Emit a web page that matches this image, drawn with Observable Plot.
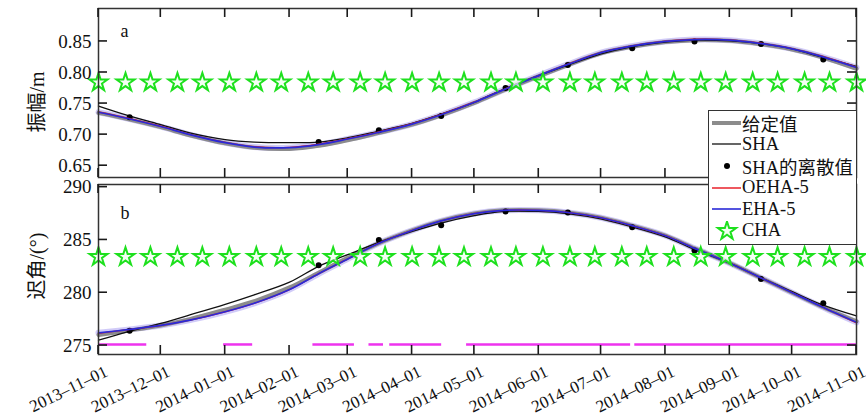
<!DOCTYPE html>
<html><head><meta charset="utf-8">
<script src="https://cdn.jsdelivr.net/npm/d3@7"></script>
<script src="https://cdn.jsdelivr.net/npm/@observablehq/plot@0.6"></script>
<style>
body{margin:0;background:#fff;}
#wrap{position:relative;width:866px;height:414px;overflow:hidden;font-family:'Liberation Serif','Noto Sans CJK SC',serif;color:#111;}
#wrap svg{display:block;}
.ytitle{position:absolute;font-size:20px;white-space:nowrap;transform:translate(-50%,-50%) rotate(-90deg);}
#legend{position:absolute;left:708px;top:110px;width:149px;height:135px;background:#fff;border:1.5px solid #333;box-sizing:border-box;font-size:18.5px;padding-top:1px;}
.row{display:flex;align-items:center;height:21.6px;}
.row svg{flex:none;margin-right:1px;}
</style></head><body>
<div id="wrap"><div id="top"></div><div id="bot"></div><div id="legend"></div></div>
<script>
// ---------- data ----------
const sampleDates = ["2013-11-01","2013-11-15","2013-12-01","2013-12-15","2014-01-01","2014-01-15","2014-02-01","2014-02-15","2014-03-01","2014-03-15","2014-04-01","2014-04-15","2014-05-01","2014-05-15","2014-06-01","2014-06-15","2014-07-01","2014-07-15","2014-08-01","2014-08-15","2014-09-01","2014-09-15","2014-10-01","2014-10-15","2014-11-01"];
const ampGiven = [0.735,0.725,0.712,0.699,0.686,0.679,0.677,0.682,0.691,0.702,0.716,0.731,0.751,0.771,0.794,0.812,0.831,0.841,0.849,0.852,0.851,0.846,0.837,0.825,0.806];
const ampSHA   = [0.746,0.731,0.716,0.703,0.692,0.688,0.687,0.688,0.695,0.705,0.718,0.733,0.752,0.773,0.795,0.812,0.830,0.841,0.849,0.852,0.851,0.847,0.838,0.825,0.810];
const ampOEHA  = [0.7365,0.7265,0.7135,0.7005,0.6875,0.6805,0.6795,0.6845,0.6935,0.7035,0.7175,0.7325,0.7525,0.7725,0.7955,0.8135,0.8325,0.8425,0.8505,0.8535,0.8525,0.8475,0.8385,0.8265,0.8085];
const ampEHA   = [0.736,0.726,0.713,0.700,0.687,0.680,0.679,0.684,0.693,0.703,0.717,0.732,0.752,0.772,0.795,0.813,0.832,0.842,0.850,0.853,0.852,0.847,0.838,0.826,0.808];
const phaseGiven = [276.0,276.4,276.9,277.5,278.4,279.2,280.5,281.9,283.3,284.6,285.9,286.8,287.5,287.8,287.8,287.6,287.1,286.4,285.4,284.2,282.8,281.5,280.0,278.7,277.3];
const phaseSHA   = [275.5,276.3,277.1,277.9,278.9,279.8,281.0,282.5,283.6,284.7,285.8,286.6,287.3,287.7,287.7,287.5,287.0,286.3,285.3,284.1,282.8,281.5,280.1,278.9,277.8];
const phaseOEHA  = [276.15,276.5,276.9,277.4,278.2,279.0,280.3,281.8,283.2,284.6,285.9,286.8,287.5,287.8,287.8,287.6,287.1,286.4,285.4,284.2,282.8,281.5,280.0,278.7,277.15];
const phaseEHA   = [276.2,276.5,276.9,277.4,278.2,279.0,280.3,281.8,283.2,284.6,285.9,286.8,287.5,287.8,287.8,287.6,287.1,286.4,285.4,284.2,282.8,281.5,280.0,278.7,277.2];

const shaDotDates = ["2013-11-16","2014-02-15","2014-03-16","2014-04-15","2014-05-16","2014-06-15","2014-07-16","2014-08-15","2014-09-16","2014-10-16"];
const shaDotAmp   = [0.728,0.688,0.707,0.730,0.775,0.812,0.839,0.850,0.846,0.821];
const shaDotPhase = [276.4,282.6,285.0,286.4,287.7,287.6,286.2,284.0,281.3,279.0];

const chaDates = ["2013-11-01","2013-11-14","2013-11-26","2013-12-09","2013-12-21","2014-01-03","2014-01-16","2014-01-28","2014-02-10","2014-02-22","2014-03-07","2014-03-19","2014-04-01","2014-04-14","2014-04-26","2014-05-09","2014-05-21","2014-06-03","2014-06-16","2014-06-28","2014-07-11","2014-07-23","2014-08-05","2014-08-18","2014-08-30","2014-09-12","2014-09-24","2014-10-07","2014-10-19","2014-11-01"];
const chaAmp = 0.784;
const chaPhase = 283.4;

const segStart = ["2013-11-01","2013-12-31","2014-02-12","2014-03-11","2014-03-21","2014-04-27","2014-07-17"];
const segEnd   = ["2013-11-24","2014-01-14","2014-03-04","2014-03-18","2014-04-15","2014-07-15","2014-11-01"];
const segLevel = 275.1;

const xTickLabels = ["2013-11-01","2013-12-01","2014-01-01","2014-02-01","2014-03-01","2014-04-01","2014-05-01","2014-06-01","2014-07-01","2014-08-01","2014-09-01","2014-10-01","2014-11-01"];
const ampTicks = [0.65,0.70,0.75,0.80,0.85];
const phaseTicks = [275,280,285,290];
const ampDomain = [0.631,0.903];
const phaseDomain = [274.15,290.25];
const legendLabels = ["给定值","SHA","SHA的离散值","OEHA-5","EHA-5","CHA"];
const ampTitle = "振幅/m";
const phaseTitle = "迟角/(°)";

// ---------- build ----------
const P = s => new Date(s + "T00:00:00Z");
const xTicks = xTickLabels.map(s => P(s));
const xDomain = [P("2013-11-01"), P("2014-11-01")];
const mk = (vals) => sampleDates.map((d,i) => ({date: P(d), v: vals[i]}));
const cha = (lvl) => chaDates.map(d => ({date: P(d), v: lvl}));
const dots = (vals) => shaDotDates.map((d,i) => ({date: P(d), v: vals[i]}));
const segs = segStart.map((s,i) => ({a: P(s), b: P(segEnd[i]), v: segLevel}));

const font = "'Liberation Serif','Noto Sans CJK SC',serif";
const C = {given:"#8c8c8c", sha:"#111", oeha:"#e8202a", eha:"#2a2ad8", halo:"#9a8cf0", cha:"#1ee01e", seg:"#ee33ee"};
const TS = 9;            // inward tick length (px)
const W = 866, ML = 98, MR = 10;

function panel(kind){
  const isTop = kind === "top";
  const H = isTop ? 180 : 234, MT = isTop ? 8 : 4, MB = isTop ? 3 : 60;
  const yDom = isTop ? ampDomain : phaseDomain;
  const yt = isTop ? ampTicks : phaseTicks;
  const given = mk(isTop ? ampGiven : phaseGiven);
  const sha = mk(isTop ? ampSHA : phaseSHA);
  const oeha = mk(isTop ? ampOEHA : phaseOEHA);
  const eha = mk(isTop ? ampEHA : phaseEHA);
  const marks = [];
  if (!isTop) marks.push(Plot.link(segs, {x1:"a", x2:"b", y1:"v", y2:"v", stroke:C.seg, strokeWidth:2.5}));
  marks.push(
    Plot.lineY(eha, {x:"date", y:"v", stroke:C.halo, strokeWidth:6, strokeOpacity:0.45, curve:"catmull-rom"}),
    Plot.lineY(given, {x:"date", y:"v", stroke:C.given, strokeWidth:4, curve:"catmull-rom"}),
    Plot.lineY(sha, {x:"date", y:"v", stroke:C.sha, strokeWidth:1.3, curve:"catmull-rom"}),
    Plot.dot(dots(isTop ? shaDotAmp : shaDotPhase), {x:"date", y:"v", r:3, fill:"#000"}),
    Plot.lineY(oeha, {x:"date", y:"v", stroke:C.oeha, strokeWidth:1.4, curve:"catmull-rom"}),
    Plot.lineY(eha, {x:"date", y:"v", stroke:C.eha, strokeWidth:1.7, curve:"catmull-rom"}),
    Plot.dot(cha(isTop ? chaAmp : chaPhase), {x:"date", y:"v", symbol:"star", r:5.7, stroke:C.cha, strokeWidth:2, fill:"#f0fff0", fillOpacity:0.7}),
    Plot.text([isTop ? "a" : "b"], {frameAnchor:"top-left", dx:22, dy: isTop ? 16 : 22, fontSize:18, fill:"#111"}),
    Plot.axisY({anchor:"left", ticks:yt, tickSize:0, tickPadding:7, tickFormat: isTop ? d3.format(".2f") : d3.format("d"), label:null, fontSize:19}),
    Plot.frame({stroke:"#333", strokeWidth:1.5})
  );
  if (!isTop) {
    marks.push(Plot.axisX({anchor:"bottom", ticks:xTicks, tickSize:0, tickPadding:16, tickRotate:-26, dx:8, fontSize:17, tickFormat:(d,i)=>xTickLabels[i].replace(/-/g,"\u2013"), label:null}));
  } else {
    marks.push(Plot.axisX({anchor:"bottom", ticks:xTicks, tickSize:0, tickFormat:()=>"", label:null}));
  }
  const chart = Plot.plot({
    width:W, height:H, marginTop:MT, marginBottom:MB, marginLeft:ML, marginRight:MR,
    style:{fontFamily:font, fontSize:"19px", color:"#111", background:"white", overflow:"visible"},
    x:{type:"utc", domain:xDomain},
    y:{domain:yDom},
    marks
  });
  // inward ticks on all four sides, placed with the chart's own scales
  const xs = chart.scale("x"), ys = chart.scale("y");
  const x0 = xs.apply(xDomain[0]), x1 = xs.apply(xDomain[1]);
  const y0 = ys.apply(yDom[0]), y1 = ys.apply(yDom[1]);
  const g = d3.select(chart).append("g").attr("stroke", "#1a1a1a").attr("stroke-width", 1.6);
  xTicks.forEach(t => {
    const x = xs.apply(t);
    g.append("line").attr("x1", x).attr("x2", x).attr("y1", y0).attr("y2", y0 - TS);
    g.append("line").attr("x1", x).attr("x2", x).attr("y1", y1).attr("y2", y1 + TS);
  });
  yt.forEach(t => {
    const y = ys.apply(t);
    g.append("line").attr("x1", x0).attr("x2", x0 + TS).attr("y1", y).attr("y2", y);
    g.append("line").attr("x1", x1).attr("x2", x1 - TS).attr("y1", y).attr("y2", y);
  });
  return chart;
}
document.getElementById("top").appendChild(panel("top"));
document.getElementById("bot").appendChild(panel("bot"));

// y titles
const wrap = document.getElementById("wrap");
[[ampTitle, 35, 102],[phaseTitle, 35, 266]].forEach(([t,x,y]) => {
  const d = document.createElement("div"); d.className = "ytitle"; d.textContent = t;
  d.style.left = x + "px"; d.style.top = y + "px"; wrap.appendChild(d);
});

// legend
const sw = [
  `<line x1="3" x2="32" y1="10" y2="10" stroke="${C.given}" stroke-width="4"/>`,
  `<line x1="3" x2="32" y1="10" y2="10" stroke="${C.sha}" stroke-width="1.3"/>`,
  `<circle cx="18" cy="10" r="3" fill="#000"/>`,
  `<line x1="3" x2="32" y1="10" y2="10" stroke="${C.oeha}" stroke-width="1.5"/>`,
  `<line x1="3" x2="32" y1="10" y2="10" stroke="${C.eha}" stroke-width="1.6"/>`,
  `<path transform="translate(18,10)" d="${d3.symbol(d3.symbolStar, 102)()}" stroke="${C.cha}" stroke-width="2" fill="#f0fff0"/>`
];
const leg = document.getElementById("legend");
legendLabels.forEach((l,i) => {
  const r = document.createElement("div"); r.className = "row";
  r.innerHTML = `<svg width="32" height="20">${sw[i]}</svg><span>${l}</span>`;
  leg.appendChild(r);
});
</script>
</body></html>
